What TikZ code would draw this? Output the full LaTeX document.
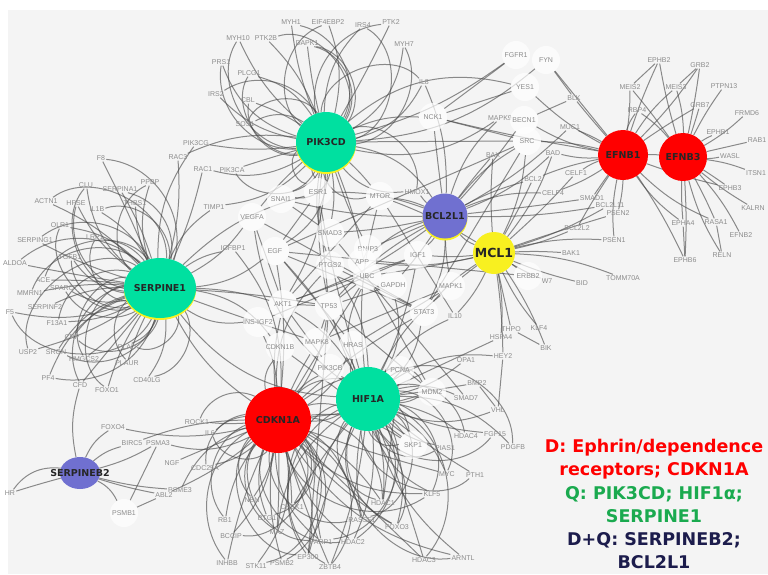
\documentclass[tikz,border=0pt]{standalone}
\usepackage{fontspec}
\usetikzlibrary{shapes.geometric}
\setmainfont{Liberation Sans}
\newfontfamily\hubfont{DejaVu Sans}
\definecolor{bggrey}{HTML}{F4F4F4}
\definecolor{hubgreen}{HTML}{00E0A0}
\definecolor{hubblue}{HTML}{7070D0}
\definecolor{hubyellow}{HTML}{F8F020}
\definecolor{hubred}{HTML}{FF0000}
\definecolor{leggreen}{HTML}{1AAA4F}
\definecolor{legnavy}{HTML}{1C1C4C}
\definecolor{edgegrey}{HTML}{484848}
\definecolor{lblgrey}{HTML}{8C8C8C}
\pgfdeclarelayer{bg}
\pgfdeclarelayer{edges}
\pgfsetlayers{bg,edges,main}
\tikzset{
  lbl/.style={inner sep=1pt, text=lblgrey, font=\fontsize{7}{8}\selectfont},
  wdisc/.style={circle, fill=white, fill opacity=0.7, text opacity=1, minimum size=28pt, inner sep=0pt, text=lblgrey, font=\fontsize{7}{8}\selectfont},
  hub/.style={circle, inner sep=0pt, text=black!85, font=\hubfont\bfseries\fontsize{9.5}{10}\selectfont},
  yelrim/.style={preaction={fill=hubyellow, transform canvas={yshift=-2pt}}},
  edge/.style={draw=edgegrey, line width=1pt, opacity=0.62},
  legend/.style={align=center, font=\hubfont\bfseries\fontsize{17.5}{23}\selectfont}
}
\begin{document}
\begin{tikzpicture}[x=1pt,y=-1pt]
\useasboundingbox (0,0) rectangle (768,574);
\begin{pgfonlayer}{bg}
  \fill[bggrey] (8,10) rectangle (768,574);
\end{pgfonlayer}

% small labels
\foreach \n/\x/\y in {MYH1/291/22, EIF4EBP2/328/22, IRS4/363/25, PTK2/391/22, MYH7/404/44,
  MYH10/238/38, PTK2B/266/38, PRS1/221/62, DAPK1/307/43, PLCG1/249/73, IRS2/216/94,
  CBL/248/100, SOS1/245/124, PIK3CG/196/143, RAC3/178/157, RAC1/203/169, PIK3CA/232/170,
  IL8/424/82, MAPK9/500/118, BLK/574/98, MUC1/570/127, BAX/493/155, BAD/553/153,
  TIMP1/214/207, HMOX1/417/192, BCL2/533/179, CELF1/576/173, CELF4/553/193, SMAD1/592/198,
  BCL2L11/610/205, BCL2L2/577/228, PSEN2/618/213, PSEN1/614/240, BAK1/571/253,
  BID/582/283, TOMM70A/623/278, W7/547/281, IL10/455/316,
  HSPA4/501/337, THPO/511/329, KLF4/539/328, BIK/546/348, HEY2/503/356, OPA1/466/360,
  BMP2/477/383, SMAD7/466/398, VHL/498/410, HDAC4/466/436, FGF15/495/434, PDGFB/513/447,
  PIAS1/445/448, MYC/447/474, PTH1/475/475, KLF5/432/494, FOXO3/397/527, RASSF1/362/520,
  HDAC1/383/503, HDAC2/353/542, HDAC3/424/560, ARNTL/463/558, PARP1/321/542,
  ZBTB4/330/567, EP300/308/557, PSMB2/282/563, STK11/256/566, INHBB/227/563,
  BCCIP/231/536, RB1/225/520, MAZ/277/532, BTG1/267/518, NBN/252/500, CHEK1/292/507,
  FOXO4/113/427, BIRC5/132/443, PSMA3/158/443, NGF/172/463, PSME3/180/490, ABL2/164/495,
  HR/10/493, ROCK1/197/422, IL6/210/433, CDC25A/205/468,
  F8/101/158, CLU/86/185, SERPINA1/120/189, PPBP/150/182, ACTN1/46/201, HPSE/76/203,
  IL1B/97/209, THBS1/135/203, OLR1/60/225, SERPING1/35/240, LRP1/95/237, ALDOA/15/263,
  TGFB1/70/257, ACE/43/280, SPARC/62/288, MMRN1/30/293, F5/10/312, SERPINF2/45/307,
  F13A1/57/323, CRP/72/337, USP2/28/352, SRGN/56/352, HMGCS2/84/359, PF4/48/378,
  CFD/80/385, PLAU/127/347, PLAUR/127/363, CD40LG/147/380, FOXO1/107/390, IGFBP1/233/248,
  EPHB2/659/60, GRB2/700/65, MEIS2/630/87, MEIS3/676/87, PTPN13/724/86, RBP4/637/110,
  GRB7/700/105, FRMD6/747/113, EPHB1/718/132, RAB1/757/140, WASL/730/156, ITSN1/756/173,
  EPHB3/730/188, KALRN/753/208, EPHA4/683/223, RASA1/716/222, EFNB2/741/235,
  EPHB6/685/260, RELN/722/255}
  \node[lbl] (\n) at (\x,\y) {\n};

% white discs
\foreach \n/\x/\y in {NCK1/433/117, FGFR1/516/55, FYN/546/60, YES1/525/87, SRC/527/141,
  BECN1/524/120, ESR1/318/192, SNAI1/281/199, VEGFA/252/217, MTOR/380/196, SMAD3/330/233,
  BNIP3/368/249, APP/362/262, PTGS2/330/265, UBC/367/276, EGF/275/251, IGF1/418/255,
  GAPDH/393/285, MAPK1/451/286, STAT3/424/312, ERBB2/528/276, AKT1/283/304, TP53/329/306,
  MAPK8/317/342, CDKN1B/280/347, HRAS/353/345, PIK3CB/330/368, PCNA/400/370,
  MDM2/432/392, SKP1/413/445, PSMB1/124/513}
  \node[wdisc] (\n) at (\x,\y) {\n};
\node[wdisc] (INSIGF2) at (258,322) {INS-IGF2};

% hubs
\node[hub, yelrim, fill=hubgreen, minimum size=60pt] (PIK3CD) at (326,142) {PIK3CD};
\node[hub, yelrim, fill=hubgreen, ellipse, minimum width=72pt, minimum height=60pt] (SERPINE1) at (160,288) {\makebox[0pt]{SERPINE1}};
\node[hub, yelrim, fill=hubblue, minimum size=45pt] (BCL2L1) at (445,216) {\makebox[0pt]{BCL2L1}};
\node[hub, fill=hubyellow, minimum size=42pt, font=\hubfont\bfseries\fontsize{12.5}{13}\selectfont] (MCL1) at (494,253) {\makebox[0pt]{MCL1}};
\node[hub, fill=hubred, minimum size=50pt] (EFNB1) at (623,155) {EFNB1};
\node[hub, fill=hubred, minimum size=48pt] (EFNB3) at (683,157) {EFNB3};
\node[hub, fill=hubred, minimum size=66pt] (CDKN1A) at (278,420) {CDKN1A};
\node[hub, fill=hubgreen, minimum size=64pt] (HIF1A) at (368,399) {HIF1A};
\node[hub, fill=hubblue, ellipse, minimum width=40pt, minimum height=32pt] (SERPINEB2) at (80,473) {\makebox[0pt]{SERPINEB2}};

% legend
\node[legend, text=hubred] (legD) at (654,459) {D: Ephrin/dependence\\receptors; CDKN1A};
\node[legend, text=leggreen] (legQ) at (654,505) {Q: PIK3CD; HIF1α;\\SERPINE1};
\node[legend, text=legnavy] (legDQ) at (654,551) {D+Q: SERPINEB2;\\BCL2L1};

\begin{pgfonlayer}{edges}
\foreach \t [count=\i, evaluate=\i as \b using {mod(\i*37,60)-30}] in {MYH1, EIF4EBP2, IRS4, PTK2,
  MYH7, MYH10, PTK2B, PRS1, DAPK1, PLCG1, IRS2, CBL, SOS1, PIK3CG, RAC3, RAC1, PIK3CA, IL8,
  NCK1, FGFR1, YES1, MTOR, ESR1, SNAI1, VEGFA, HMOX1, SMAD3, PTGS2, BCL2L1, SRC, MAPK9, AKT1,
  TP53, EGF, UBC, FYN, TIMP1, BNIP3}
  \draw[edge] (PIK3CD) to[bend left=\b] (\t);
% loops round the top cluster
\foreach \t [count=\i, evaluate=\i as \b using {(-1)^\i*(45+mod(\i*7,25))}] in {MYH1, EIF4EBP2,
  IRS4, PTK2, MYH7, MYH10, PTK2B, PRS1, DAPK1, PLCG1, IRS2, CBL, SOS1, IL8, MTOR, HMOX1, ESR1,
  SNAI1, DAPK1, PIK3CA}
  \draw[edge] (PIK3CD) to[bend left=\b] (\t);
\foreach \t [count=\i, evaluate=\i as \b using {mod(\i*23,50)-25}] in {F8, CLU, SERPINA1, PPBP,
  ACTN1, HPSE, IL1B, THBS1, OLR1, SERPING1, LRP1, ALDOA, TGFB1, ACE, SPARC, MMRN1, F5, SERPINF2,
  F13A1, CRP, USP2, SRGN, HMGCS2, PF4, CFD, PLAU, PLAUR, CD40LG, FOXO1, TIMP1, VEGFA, IGFBP1,
  EGF, AKT1, INSIGF2, TP53, HIF1A, MAPK8, CDKN1B, RAC1, PIK3CG, RAC3, ESR1, CDKN1A}
  \draw[edge] (SERPINE1) to[bend left=\b] (\t);
\foreach \t [count=\i, evaluate=\i as \b using {(-1)^\i*(40+mod(\i*11,30))}] in {F8, CLU,
  SERPINA1, PPBP, ACTN1, HPSE, IL1B, OLR1, SERPING1, LRP1, ALDOA, TGFB1, ACE, SPARC, MMRN1,
  F5, F13A1, CRP, USP2, SRGN, HMGCS2, PF4, CFD, PLAU, PLAUR, CD40LG, FOXO1}
  \draw[edge] (SERPINE1) to[bend left=\b] (\t);
\foreach \t [count=\i, evaluate=\i as \b using {mod(\i*29,50)-25}] in {ROCK1, IL6, FOXO4, BIRC5,
  PSMA3, NGF, PSME3, ABL2, RB1, BCCIP, INHBB, STK11, MAZ, BTG1, NBN, PSMB2, EP300, ZBTB4,
  PARP1, CHEK1, HDAC2, HDAC1, FOXO3, RASSF1, HDAC3, ARNTL, AKT1, TP53, PCNA, MDM2, CDKN1B,
  MAPK8, HRAS, PIK3CB, INSIGF2, SKP1, MYC, KLF5, STAT3, HIF1A, CDC25A, EGF, PTGS2, UBC, IGFBP1}
  \draw[edge] (CDKN1A) to[bend left=\b] (\t);
\foreach \t [count=\i, evaluate=\i as \b using {(-1)^\i*(40+mod(\i*13,30))}] in {RB1, BCCIP,
  INHBB, STK11, MAZ, BTG1, NBN, PSMB2, EP300, ZBTB4, PARP1, CHEK1, HDAC2, HDAC1, RASSF1, FOXO3,
  KLF5, SKP1, ROCK1, IL6, CDC25A}
  \draw[edge] (CDKN1A) to[bend left=\b] (\t);
\foreach \t [count=\i, evaluate=\i as \b using {mod(\i*31,50)-25}] in {PCNA, MDM2, SMAD7, BMP2,
  VHL, HDAC4, FGF15, PDGFB, SKP1, PIAS1, MYC, PTH1, KLF5, HDAC1, RASSF1, FOXO3, HDAC3, ARNTL,
  HDAC2, EP300, PARP1, ZBTB4, OPA1, HEY2, HSPA4, STAT3, MAPK1, IGF1, UBC, TP53, AKT1, HRAS,
  PIK3CB, GAPDH, MTOR, EGF, VEGFA, ESR1, PTGS2, IL10, CHEK1, MAZ}
  \draw[edge] (HIF1A) to[bend left=\b] (\t);
\foreach \t [count=\i, evaluate=\i as \b using {(-1)^\i*(40+mod(\i*9,30))}] in {PIAS1, MYC,
  PTH1, KLF5, HDAC1, RASSF1, FOXO3, HDAC3, ARNTL, HDAC2, EP300, PARP1, ZBTB4, HDAC4, FGF15,
  PDGFB, SKP1, MDM2}
  \draw[edge] (HIF1A) to[bend left=\b] (\t);
\foreach \t [count=\i, evaluate=\i as \b using {mod(\i*17,30)-15}] in {BAX, BAD, BCL2, MUC1, SRC,
  BECN1, MAPK9, NCK1, IL8, HMOX1, MTOR, IGF1, MAPK1, STAT3, BNIP3, APP, SMAD3, TP53, AKT1,
  BCL2L11, CELF4, SMAD1, MCL1, GAPDH, ESR1, SNAI1}
  \draw[edge] (BCL2L1) to[bend left=\b] (\t);
\foreach \t [count=\i, evaluate=\i as \b using {mod(\i*13,20)-10}] in {BAK1, BID, TOMM70A, ERBB2,
  BCL2L2, PSEN1, PSEN2, BCL2L11, HSPA4, THPO, KLF4, BIK, MAPK1, STAT3, IGF1, BCL2, BAD, BAX,
  CELF1, SRC, HEY2, W7, APP, UBC, MTOR, IL10}
  \draw[edge] (MCL1) to[bend left=\b] (\t);
\foreach \t [count=\i, evaluate=\i as \b using {mod(\i*13,20)-10}] in {EPHB2, MEIS2, RBP4, GRB7,
  GRB2, MEIS3, BLK, SRC, YES1, FYN, CELF1, CELF4, SMAD1, PSEN1, PSEN2, BCL2L2, EPHA4, EPHB6,
  EPHB3, RASA1, EFNB3, MUC1, BECN1, NCK1, BCL2, BAD}
  \draw[edge] (EFNB1) to[bend left=\b] (\t);
\foreach \t [count=\i, evaluate=\i as \b using {mod(\i*11,16)-8}] in {EPHB2, GRB2, MEIS3,
  PTPN13, GRB7, FRMD6, EPHB1, RAB1, WASL, ITSN1, EPHB3, KALRN, EFNB2, RASA1, EPHA4, RELN,
  EPHB6, MEIS2, RBP4}
  \draw[edge] (EFNB3) to[bend left=\b] (\t);
\foreach \t [count=\i, evaluate=\i as \b using {mod(\i*19,40)-20}] in {HR, PSMB1, ABL2, FOXO4,
  PSME3, CFD, PSMA3, BIRC5}
  \draw[edge] (SERPINEB2) to[bend left=\b] (\t);
% links between the other genes
\foreach \a/\b in {PSMB1/ABL2, PSMB1/PSMA3, FGFR1/NCK1, FYN/BLK, YES1/NCK1, BLK/BECN1,
  NCK1/SRC, EPHB6/EPHA4, RELN/RASA1, MEIS2/EPHB2, GRB2/MEIS3, HEY2/VHL, BMP2/VHL, THPO/BIK,
  AKT1/TP53, AKT1/MTOR, TP53/MDM2, EGF/STAT3, SRC/STAT3, ESR1/TP53, UBC/TP53, PCNA/HDAC1,
  MAPK1/MAPK8, HRAS/MAPK1, EGF/HRAS, VEGFA/AKT1, PTGS2/STAT3, IGF1/AKT1, INSIGF2/IGF1,
  SMAD3/SMAD7, TP53/EP300, MDM2/UBC, CDKN1B/SKP1, PIK3CB/AKT1, ESR1/EGF, GAPDH/TP53,
  SNAI1/SMAD3, VEGFA/STAT3, MAPK8/TP53, SRC/EGF, ERBB2/EGF, BNIP3/APP, MTOR/IL10}
  \draw[edge] (\a) -- (\b);
\draw[edge] (HR) to[bend left=30] (SERPINEB2);
\end{pgfonlayer}
\end{tikzpicture}
\end{document}
